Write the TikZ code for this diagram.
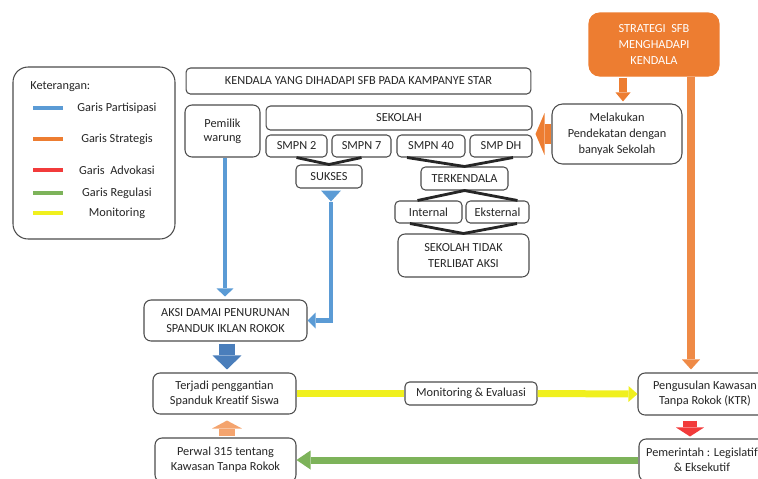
\documentclass[tikz,border=0pt]{standalone}
\usepackage{fontspec}
\setmainfont{Carlito}
\usetikzlibrary{arrows.meta}

\definecolor{biru}{HTML}{5B9BD5}
\definecolor{birutua}{HTML}{4A7EBB}
\definecolor{oranye}{HTML}{ED7D31}
\definecolor{oranyemuda}{HTML}{F4A46E}
\definecolor{merah}{HTML}{F23B3B}
\definecolor{hijau}{HTML}{7DB35A}
\definecolor{kuning}{HTML}{F0F01E}

\tikzset{
  kotak/.style={draw=black!70, line width=0.6pt, rounded corners=2.5pt, fill=white,
    align=center, inner sep=1pt, text=black!85, font=\fontsize{7}{8.6}\selectfont},
  teks/.style={inner sep=0pt, text=black!85, font=\fontsize{7}{8.6}\selectfont},
  vline/.style={line width=1.6pt, black!85},
  garisbiru/.style={line width=2.8pt, biru},
}

\begin{document}
\begin{tikzpicture}[x=0.02cm,y=-0.02cm]
\useasboundingbox (0,0) rectangle (758,478);
\clip (0,0) rectangle (758,478);

\node[kotak, rounded corners=0.3cm, minimum width=3.24cm, minimum height=3.44cm] (ket) at (94,153) {};
\node[teks, anchor=west] (ketjudul) at (30,87) {Keterangan:};
\foreach \y/\c/\t in {108/biru/Garis Partisipasi, 139/oranye/Garis Strategis,
    170/merah/Garis~ Advokasi, 193/hijau/Garis Regulasi, 213/kuning/Monitoring}{
  \draw[line width=0.09cm, \c] (33,\y) -- (63,\y);
  \node[teks] (leg\y) at (117,\y) {\t};
}

\node[kotak, minimum width=6.9cm, minimum height=0.52cm] (judul) at (358.5,81) {KENDALA YANG DIHADAPI SFB PADA KAMPANYE STAR};
\node[kotak, rounded corners=4pt, minimum width=1.5cm, minimum height=1.04cm, font=\fontsize{7}{7.8}\selectfont] (warung) at (222.5,131) {Pemilik\\warung};
\node[kotak, minimum width=5.32cm, minimum height=0.48cm] (sekolah) at (399,118) {SEKOLAH};
\node[kotak, minimum width=1.22cm, minimum height=0.44cm] (smp2) at (296.5,146) {SMPN 2};
\node[kotak, minimum width=1.18cm, minimum height=0.44cm] (smp7) at (361.5,146) {SMPN 7};
\node[kotak, minimum width=1.36cm, minimum height=0.44cm] (smp40) at (431,146) {SMPN 40};
\node[kotak, minimum width=1.24cm, minimum height=0.44cm] (smpdh) at (501,146) {SMP DH};
\node[kotak, minimum width=1.32cm, minimum height=0.46cm] (sukses) at (329,176.5) {SUKSES};
\node[kotak, minimum width=1.74cm, minimum height=0.46cm] (kendala) at (464.5,178.5) {TERKENDALA};
\node[kotak, minimum width=1.34cm, minimum height=0.44cm] (internal) at (428.5,212) {Internal};
\node[kotak, minimum width=1.26cm, minimum height=0.44cm] (eksternal) at (497.5,212) {Eksternal};
\node[kotak, rounded corners=4pt, minimum width=2.62cm, minimum height=0.86cm] (tidak) at (463.5,255.5) {SEKOLAH TIDAK\\TERLIBAT AKSI};

\node[kotak, rounded corners=4pt, minimum width=3.26cm, minimum height=0.82cm] (aksi) at (225.5,320.5) {AKSI DAMAI PENURUNAN\\SPANDUK IKLAN ROKOK};
\node[kotak, rounded corners=4pt, minimum width=2.86cm, minimum height=0.82cm] (ganti) at (224.5,393.5) {Terjadi penggantian\\Spanduk Kreatif Siswa};
\node[kotak, rounded corners=4pt, minimum width=2.82cm, minimum height=0.88cm] (perwal) at (225.5,460) {Perwal 315 tentang\\Kawasan Tanpa Rokok};
\node[kotak, minimum width=2.64cm, minimum height=0.46cm] (monev) at (471,393.5) {Monitoring \& Evaluasi};
\node[kotak, rounded corners=4pt, minimum width=2.68cm, minimum height=0.84cm] (ktr) at (705,394) {Pengusulan Kawasan\\Tanpa Rokok (KTR)};
\node[kotak, rounded corners=4pt, minimum width=2.52cm, minimum height=0.84cm] (pemerintah) at (702,460) {Pemerintah : Legislatif\\\& Eksekutif};

\node[kotak, fill=oranye, draw=oranye, text=white, rounded corners=6pt, minimum width=2.6cm, minimum height=1.26cm, font=\fontsize{7}{9}\selectfont] (strategi) at (654,44.5) {STRATEGI~ SFB\\MENGHADAPI\\KENDALA};
\node[kotak, rounded corners=6pt, minimum width=2.6cm, minimum height=1.2cm, font=\fontsize{7}{9}\selectfont] (pendekatan) at (617,134) {Melakukan\\Pendekatan dengan\\banyak Sekolah};

\draw[vline] (smp2.south) -- (sukses.north) -- (smp7.south);
\draw[vline] ([xshift=-0.48cm]smp40.south) -- (kendala.north) -- ([xshift=0.24cm]smpdh.south);
\draw[vline] ([xshift=-0.22cm]internal.north) -- (kendala.south) -- ([xshift=0.4cm]eksternal.north);
\draw[vline] ([xshift=-0.37cm]internal.south) -- (tidak.north) -- ([xshift=0.39cm]eksternal.south);

\coordinate (xw) at (225,0);
\coordinate (xs) at (331,0);
\coordinate (xb) at (227,0);
\coordinate (xo) at (623,0);
\coordinate (xl) at (691,0);
\coordinate (xm) at (690,0);

\draw[garisbiru, -{Triangle[length=0.16cm,width=0.34cm,line width=0pt]}, shorten >=0.06cm] (warung.south -| xw) -- (aksi.north -| xw);
\draw[garisbiru, {Triangle[reversed,length=0.22cm,width=0.4cm,line width=0pt]}-{Triangle[length=0.16cm,width=0.32cm,line width=0pt]}, shorten <=0.04cm] (sukses.south -| xs) |- (aksi.east);
\draw[line width=0.34cm, birutua, -{Triangle[length=0.28cm,width=0.58cm,line width=0pt]}, shorten <=0.04cm, shorten >=0.06cm] (aksi.south -| xb) -- (ganti.north -| xb);
\draw[line width=0.34cm, oranyemuda, -{Triangle[length=0.16cm,width=0.6cm,line width=0pt]}, shorten <=0.02cm, shorten >=0.12cm] (perwal.north -| xb) -- (ganti.south -| xb);

\draw[line width=0.14cm, kuning] (ganti.east) -- (monev.west);
\draw[line width=0.14cm, kuning, -{Triangle[length=0.18cm,width=0.32cm,line width=0pt]}] (monev.east) -- (ktr.west);
\draw[line width=0.14cm, hijau, -{Triangle[length=0.28cm,width=0.38cm,line width=0pt]}] (pemerintah.west) -- (perwal.east);

\draw[line width=0.16cm, oranye, -{Triangle[length=0.18cm,width=0.3cm,line width=0pt]}, shorten <=0.02cm, shorten >=0.04cm] (strategi.south -| xo) -- (pendekatan.north -| xo);
\draw[line width=0.4cm, oranye, -{Triangle[length=0.18cm,width=0.84cm,line width=0pt]}, shorten >=0.06cm] (pendekatan.west) -- (pendekatan.west -| sekolah.east);
\draw[line width=0.16cm, oranye!90!white, -{Triangle[length=0.2cm,width=0.36cm,line width=0pt]}, shorten >=0.06cm] (strategi.south -| xl) -- (ktr.north -| xl);
\draw[line width=0.28cm, merah, -{Triangle[length=0.18cm,width=0.56cm,line width=0pt]}, shorten <=0.1cm, shorten >=0.04cm] (ktr.south -| xm) -- (pemerintah.north -| xm);
\end{tikzpicture}
\end{document}
